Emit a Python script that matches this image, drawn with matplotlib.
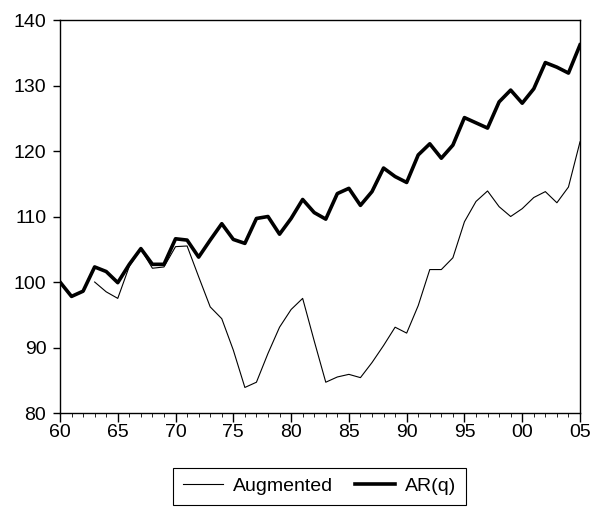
import numpy as np
import matplotlib
matplotlib.use("Agg")
import matplotlib.pyplot as plt

plt.rcParams['font.family'] = ['Liberation Sans', 'DejaVu Sans']

years = np.arange(1960, 2006)

ar_q = [100.0, 97.8, 98.6, 102.3, 101.6, 99.9, 102.7, 105.1, 102.7, 102.7,
        106.6, 106.4, 103.8, 106.4, 108.9, 106.5, 105.9, 109.7, 110.0, 107.3,
        109.7, 112.6, 110.6, 109.6, 113.5, 114.3, 111.7, 113.8, 117.4, 116.1,
        115.2, 119.4, 121.1, 118.9, 120.9, 125.1, 124.3, 123.5, 127.5, 129.3,
        127.3, 129.5, 133.5, 132.8, 131.9, 136.2]

augmented_years = np.arange(1963, 2006)
augmented = [100.0, 98.5, 97.5, 102.4, 105.0, 102.1, 102.3, 105.4, 105.5, 100.8,
             96.2, 94.4, 89.6, 83.9, 84.7, 89.1, 93.1, 95.8, 97.5, 91.0,
             84.7, 85.5, 85.9, 85.4, 87.7, 90.3, 93.1, 92.2, 96.4, 101.9,
             101.9, 103.7, 109.2, 112.3, 113.9, 111.5, 110.0, 111.2, 112.9, 113.8,
             112.1, 114.5, 121.4]

major_years = np.arange(1960, 2006, 5)
major_labels = ['60', '65', '70', '75', '80', '85', '90', '95', '00', '05']

fig = plt.figure(figsize=(5.95, 5.08), dpi=100)
ax = fig.add_axes([0.1008, 0.187, 0.874, 0.7736])

ax.plot(augmented_years, augmented, color='black', linewidth=0.8, label='Augmented')
ax.plot(years, ar_q, color='black', linewidth=2.6, label='AR(q)')

ax.set_xlim(1960, 2005)
ax.set_ylim(80, 140)
ax.set_yticks(np.arange(80, 141, 10))
ax.set_xticks(major_years)
ax.set_xticklabels(major_labels)
ax.set_xticks(years, minor=True)
ax.tick_params(axis='both', labelsize=14, direction='out', width=1, color='black')
ax.tick_params(axis='x', which='major', length=6.5, pad=1.5)
ax.tick_params(axis='x', which='minor', length=3)
ax.tick_params(axis='y', which='major', length=4.8, pad=5)
for s in ax.spines.values():
    s.set_linewidth(1.0)

leg = fig.legend(loc='center', bbox_to_anchor=(0.537, 0.043), ncol=2, fontsize=14,
                 frameon=True, fancybox=False, edgecolor='black', framealpha=1,
                 handlelength=2.1, columnspacing=1.1, handletextpad=0.5,
                 borderpad=0.5, borderaxespad=0)
leg.get_frame().set_linewidth(0.8)

fig.savefig('out.png', dpi=100)
